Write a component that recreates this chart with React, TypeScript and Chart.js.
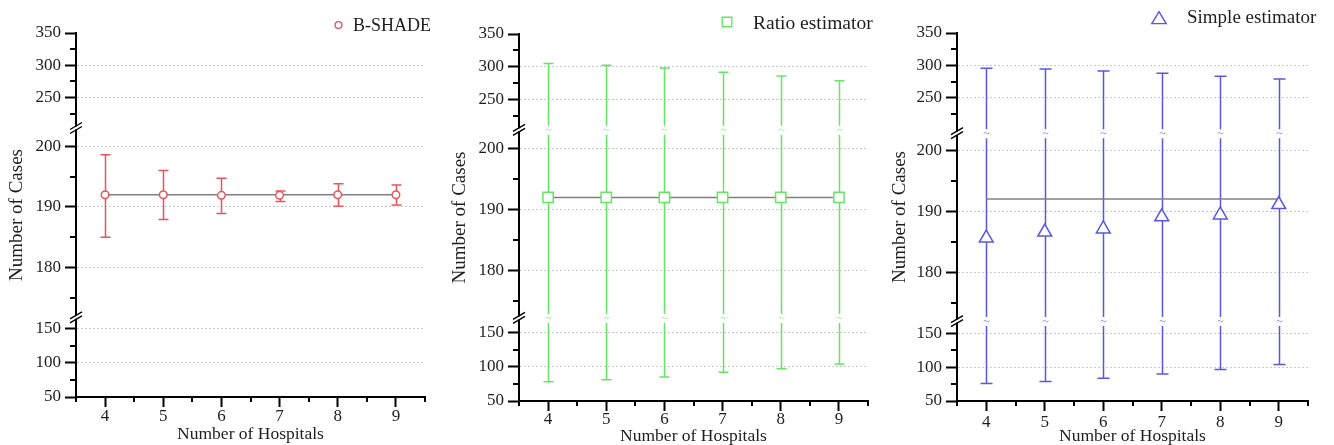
import React, { useEffect, useRef } from 'react';
import { Chart, registerables, LinearScale } from 'chart.js';

Chart.register(...registerables);

// ---------------- data ----------------
const HOSPITALS = [4, 5, 6, 7, 8, 9];
const TRUE_CASES = [192, 192, 192, 192, 192, 192];

const BSHADE_MEAN = [192.0, 192.0, 191.9, 191.9, 192.0, 192.0];
const BSHADE_LOW = [185.0, 187.9, 188.9, 190.9, 190.1, 190.3];
const BSHADE_HIGH = [198.6, 196.0, 194.7, 192.6, 193.8, 193.6];

const RATIO_MEAN = [192, 192, 192, 192, 192, 192];
const RATIO_LOW = [78, 81, 85, 92, 97, 104];
const RATIO_HIGH = [305, 302.5, 298.5, 292, 286, 279];

const SIMPLE_MEAN = [185.6, 186.6, 187.1, 189.1, 189.4, 191.1];
const SIMPLE_LOW = [76, 79, 83.5, 90, 96.5, 104];
const SIMPLE_HIGH = [295.5, 294.5, 291.5, 288, 283.5, 279];

const Y_TICKS = [50, 100, 150, 180, 190, 200, 250, 300, 350];
const Y_MINOR_TICKS = [75, 125, 175, 185, 195, 225, 275, 325];
const X_MINOR_TICKS = [3.5, 4.5, 5.5, 6.5, 7.5, 8.5, 9.5];

// broken axis layout: value ranges of the three segments and their share of the axis
const AXIS1_SEGMENTS = [[50, 166.6], [171.8, 203], [203, 350]];
const AXIS1_FRACTIONS = [0, 0.219, 0.739, 1];
const AXIS2_SEGMENTS = [[50, 171.5], [172.2, 203.1], [204.4, 350]];
const AXIS2_FRACTIONS = [0, 0.2263, 0.739, 1];
const AXIS3_SEGMENTS = [[50, 168.2], [172, 202.8], [195.6, 350]];
const AXIS3_FRACTIONS = [0, 0.2172, 0.7277, 1];

const FONT = '"Liberation Serif", "Times New Roman", serif';
const TEXT = '#1e1e1e';

function makeBrokenScale(id: string, segs: number[][], fracs: number[]) {
  const toDec = (v: number) => {
    for (let i = 0; i < segs.length; i++) {
      const [v0, v1] = segs[i];
      const d0 = fracs[i], d1 = fracs[i + 1];
      if (v < v0) return d0;
      if (v <= v1) return d0 + ((v - v0) / (v1 - v0)) * (d1 - d0);
    }
    return 1;
  };
  const toVal = (d: number) => {
    for (let i = 0; i < segs.length; i++) {
      const [v0, v1] = segs[i];
      const d0 = fracs[i], d1 = fracs[i + 1];
      if (d <= d1) return v0 + ((d - d0) / (d1 - d0)) * (v1 - v0);
    }
    return segs[segs.length - 1][1];
  };
  class BrokenScale extends (LinearScale as any) {
    static id = id;
    static defaults = {};
    buildTicks() {
      return Y_TICKS.map((v) => ({ value: v }));
    }
    getPixelForValue(value: any) {
      if (value === null || value === undefined || isNaN(value)) return NaN;
      return (this as any).getPixelForDecimal(toDec(value));
    }
    getValueForPixel(pixel: number) {
      return toVal((this as any).getDecimalForPixel(pixel));
    }
  }
  Chart.register(BrokenScale as any);
  return id;
}

const SCALE1 = makeBrokenScale('broken1', AXIS1_SEGMENTS, AXIS1_FRACTIONS);
const SCALE2 = makeBrokenScale('broken2', AXIS2_SEGMENTS, AXIS2_FRACTIONS);
const SCALE3 = makeBrokenScale('broken3', AXIS3_SEGMENTS, AXIS3_FRACTIONS);

interface Panel {
  key: string;
  left: number;
  width: number;
  areaLeft: number;
  areaRight: number;
  areaTop: number;
  areaBottom: number;
  yTitlePad: number;
  xTitlePad: number;
  xTickPad: number;
  scaleId: string;
  fracs: number[];
  label: string;
  mean: number[];
  low: number[];
  high: number[];
  color: string;
  tilde: string;
  pointStyle: string;
  pointRadius: number;
  cap: number;
  legendMarkerX: number;
  legendMarkerY: number;
  legendMarkerSize: number;
  legendTextX: number;
  legendTextY: number;
  legendFont: number;
}

const PANELS: Panel[] = [
  {
    key: 'p1', left: 0, width: 440, areaLeft: 76, areaRight: 425, areaTop: 33, areaBottom: 397,
    yTitlePad: 8, xTitlePad: 2, xTickPad: 1.5,
    scaleId: SCALE1, fracs: AXIS1_FRACTIONS, label: 'B-SHADE',
    mean: BSHADE_MEAN, low: BSHADE_LOW, high: BSHADE_HIGH,
    color: 'rgb(232,84,92)', tilde: 'rgba(232,84,92,0.6)', pointStyle: 'circle', pointRadius: 3.8, cap: 10,
    legendMarkerX: 338.5, legendMarkerY: 25, legendMarkerSize: 3.4, legendTextX: 353, legendTextY: 26, legendFont: 18,
  },
  {
    key: 'p2', left: 440, width: 440, areaLeft: 79, areaRight: 428, areaTop: 34, areaBottom: 401,
    yTitlePad: 11, xTitlePad: 0, xTickPad: 0,
    scaleId: SCALE2, fracs: AXIS2_FRACTIONS, label: 'Ratio estimator',
    mean: RATIO_MEAN, low: RATIO_LOW, high: RATIO_HIGH,
    color: 'rgb(102,228,102)', tilde: 'rgba(102,228,102,0.6)', pointStyle: 'rect', pointRadius: 7.3, cap: 10,
    legendMarkerX: 287, legendMarkerY: 22, legendMarkerSize: 9.5, legendTextX: 313, legendTextY: 24, legendFont: 19.5,
  },
  {
    key: 'p3', left: 880, width: 454, areaLeft: 77, areaRight: 428, areaTop: 33, areaBottom: 401,
    yTitlePad: 11, xTitlePad: 0, xTickPad: 3,
    scaleId: SCALE3, fracs: AXIS3_FRACTIONS, label: 'Simple estimator',
    mean: SIMPLE_MEAN, low: SIMPLE_LOW, high: SIMPLE_HIGH,
    color: 'rgb(88,88,222)', tilde: 'rgba(88,88,222,0.6)', pointStyle: 'triangle', pointRadius: 8, cap: 12,
    legendMarkerX: 279, legendMarkerY: 18, legendMarkerSize: 8, legendTextX: 307, legendTextY: 18.5, legendFont: 19,
  },
];

function makeDecor(p: Panel) {
  return {
    id: 'decor_' + p.key,
    beforeDatasetsDraw(chart: any) {
      const { ctx } = chart;
      const xs = chart.scales.x;
      const ys = chart.scales.y;
      const breaks = [p.fracs[1], p.fracs[2]].map((d) => ys.getPixelForDecimal(d));
      ctx.save();
      ctx.lineWidth = 1.5;
      HOSPITALS.forEach((h, i) => {
        const x = Math.round(xs.getPixelForValue(h)) + 0.5;
        const yTop = ys.getPixelForValue(p.high[i]);
        const yBot = ys.getPixelForValue(p.low[i]);
        const cuts = breaks.filter((b) => b > yTop + 3 && b < yBot - 3).sort((a, b) => a - b);
        ctx.strokeStyle = p.color;
        ctx.beginPath();
        let start = yTop;
        cuts.forEach((b) => {
          ctx.moveTo(x, start);
          ctx.lineTo(x, b - 4);
          start = b + 5;
        });
        ctx.moveTo(x, start);
        ctx.lineTo(x, yBot);
        ctx.moveTo(x - p.cap / 2, yTop);
        ctx.lineTo(x + p.cap / 2, yTop);
        ctx.moveTo(x - p.cap / 2, yBot);
        ctx.lineTo(x + p.cap / 2, yBot);
        ctx.stroke();
        ctx.strokeStyle = p.tilde;
        ctx.lineWidth = 1;
        cuts.forEach((b) => {
          ctx.beginPath();
          ctx.moveTo(x - 3, b + 0.5);
          ctx.quadraticCurveTo(x - 1.5, b - 1.8, x, b);
          ctx.quadraticCurveTo(x + 1.5, b + 1.8, x + 3, b - 0.5);
          ctx.stroke();
        });
        ctx.lineWidth = 1.5;
      });
      ctx.restore();
    },
    afterDraw(chart: any) {
      const { ctx, chartArea } = chart;
      const xs = chart.scales.x;
      const ys = chart.scales.y;
      const L = chartArea.left;
      const B = chartArea.bottom;
      ctx.save();
      // minor ticks
      ctx.strokeStyle = '#000';
      ctx.lineWidth = 2;
      ctx.beginPath();
      Y_MINOR_TICKS.forEach((v) => {
        const y = Math.round(ys.getPixelForValue(v));
        ctx.moveTo(L - 6, y);
        ctx.lineTo(L, y);
      });
      X_MINOR_TICKS.forEach((v) => {
        const x = Math.round(xs.getPixelForValue(v));
        ctx.moveTo(x, B);
        ctx.lineTo(x, B + 5);
      });
      ctx.stroke();
      // axis break marks
      [p.fracs[1], p.fracs[2]].forEach((d) => {
        const b = ys.getPixelForDecimal(d);
        ctx.fillStyle = '#fff';
        ctx.fillRect(L - 2, b - 1.5, 4, 3);
        ctx.strokeStyle = '#000';
        ctx.lineWidth = 1.4;
        ctx.beginPath();
        ctx.moveTo(L - 6, b + 1.5);
        ctx.lineTo(L + 6, b - 5.5);
        ctx.moveTo(L - 6, b + 5.5);
        ctx.lineTo(L + 6, b - 1.5);
        ctx.stroke();
      });
      // legend
      const mx = p.legendMarkerX;
      const my = p.legendMarkerY;
      const s = p.legendMarkerSize;
      ctx.strokeStyle = p.color;
      ctx.lineWidth = 1.4;
      ctx.beginPath();
      if (p.pointStyle === 'circle') {
        ctx.arc(mx, my, s, 0, Math.PI * 2);
      } else if (p.pointStyle === 'rect') {
        ctx.rect(mx - s / 2, my - s / 2, s, s);
      } else {
        ctx.moveTo(mx, my - s * 0.8);
        ctx.lineTo(mx + s * 0.9, my + s * 0.7);
        ctx.lineTo(mx - s * 0.9, my + s * 0.7);
        ctx.closePath();
      }
      ctx.stroke();
      ctx.fillStyle = TEXT;
      ctx.font = `${p.legendFont}px ${FONT}`;
      ctx.textBaseline = 'middle';
      ctx.textAlign = 'left';
      ctx.fillText(p.label, p.legendTextX, p.legendTextY);
      ctx.restore();
    },
  };
}

function PanelChart({ p }: { p: Panel }) {
  const ref = useRef<HTMLCanvasElement | null>(null);
  useEffect(() => {
    if (!ref.current) return;
    const chart = new Chart(ref.current, {
      type: 'line',
      data: {
        datasets: [
          {
            label: p.label,
            data: HOSPITALS.map((h, i) => ({ x: h, y: p.mean[i] })),
            showLine: false,
            pointStyle: p.pointStyle as any,
            pointRadius: p.pointRadius,
            pointBorderWidth: 1.5,
            pointBorderColor: p.color,
            pointBackgroundColor: '#fff',
            borderColor: p.color,
            backgroundColor: '#fff',
          },
          {
            label: 'True number',
            data: HOSPITALS.map((h, i) => ({ x: h, y: TRUE_CASES[i] })),
            borderColor: 'rgb(128,128,128)',
            borderWidth: 1.5,
            pointRadius: 0,
            fill: false,
            tension: 0,
          },
        ],
      },
      options: {
        responsive: false,
        animation: false,
        layout: { padding: { left: 0, right: p.width - p.areaRight, top: p.areaTop, bottom: 0 } },
        plugins: { legend: { display: false }, tooltip: { enabled: false } },
        scales: {
          x: {
            type: 'linear',
            min: 3.5,
            max: 9.5,
            afterBuildTicks: (s: any) => {
              s.ticks = HOSPITALS.map((v) => ({ value: v }));
            },
            afterFit: (s: any) => {
              s.height = 445 - p.areaBottom;
            },
            grid: { drawOnChartArea: false, drawTicks: true, tickLength: 10, tickWidth: 2, tickColor: '#000' },
            border: { display: true, color: '#000', width: 2 },
            ticks: {
              font: { family: FONT, size: 17, lineHeight: 1 },
              color: TEXT,
              padding: p.xTickPad,
              autoSkip: false,
              maxRotation: 0,
              callback: (v: any) => String(v),
            },
            title: {
              display: true,
              text: 'Number of Hospitals',
              font: { family: FONT, size: 17.5, lineHeight: 1 },
              color: TEXT,
              padding: { top: 0, bottom: p.xTitlePad },
            },
          },
          y: {
            type: p.scaleId as any,
            min: 50,
            max: 350,
            afterFit: (s: any) => {
              s.width = p.areaLeft;
            },
            grid: {
              color: (c: any) => (c.tick && (c.tick.value === 50 || c.tick.value === 350) ? 'rgba(0,0,0,0)' : '#c9c9c9'),
              lineWidth: 1,
              drawTicks: true,
              tickLength: 11,
              tickWidth: 2,
              tickColor: '#000',
            },
            border: { display: true, color: '#000', width: 2, dash: [2, 2] },
            ticks: {
              font: { family: FONT, size: 17 },
              color: TEXT,
              padding: 4,
              autoSkip: false,
              callback: (v: any) => String(v),
            },
            title: {
              display: true,
              text: 'Number of Cases',
              font: { family: FONT, size: 19, lineHeight: 1 },
              color: TEXT,
              padding: { top: p.yTitlePad, bottom: 0 },
            },
          } as any,
        },
      },
      plugins: [makeDecor(p)],
    } as any);
    return () => chart.destroy();
  }, [p]);
  return (
    <div style={{ position: 'absolute', left: p.left, top: 0, width: p.width, height: 445 }}>
      <canvas ref={ref} width={p.width} height={445} style={{ display: 'block', width: p.width, height: 445 }} />
    </div>
  );
}

export default function App() {
  return (
    <div
      style={{
        position: 'fixed',
        left: 0,
        top: 0,
        width: 1334,
        height: 445,
        background: '#fff',
        overflow: 'hidden',
      }}
    >
      {PANELS.map((p) => (
        <PanelChart key={p.key} p={p} />
      ))}
    </div>
  );
}
